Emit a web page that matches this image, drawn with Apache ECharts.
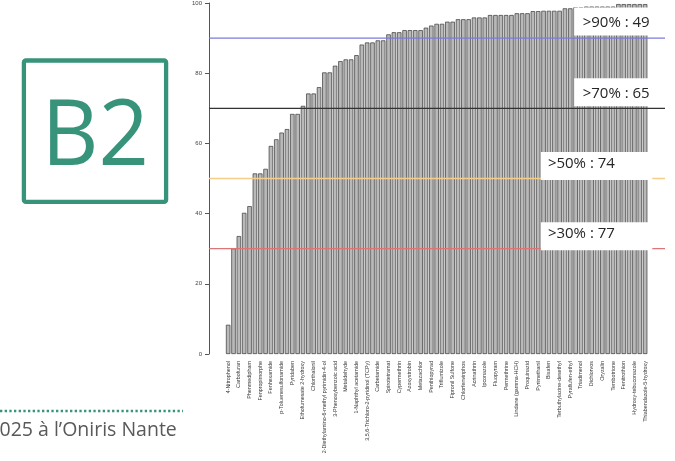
<!DOCTYPE html>
<html>
<head>
<meta charset="utf-8">
<script src="https://cdn.jsdelivr.net/npm/echarts@6/dist/echarts.min.js"></script>
<style>
  html, body { margin: 0; padding: 0; background: #ffffff; }
  #chart { width: 675px; height: 461px; }
</style>
</head>
<body>
<div id="chart"></div>
<script>
// Compound names printed under the axis (one name for every second bar).
const shownNames = [
  '4-Nitrophenol', 'Carbofuran', 'Phenmedipham', 'Fenpropimorphe', 'Fenhexamide',
  'p-Toluenesulfonamide', 'Pyridaben', 'Ethofumesate 2-hydroxy', 'Chlorthalonil',
  '2-Diethylamino-6-methyl pyrimidin-4-ol', '3-Phenoxybenzoic acid', 'Metaldehyde',
  '1-Naphthyl acetamide', '3,5,6-Trichloro-2-pyridinol (TCPy)', 'Carbetamide',
  'Spirotetramat', 'Cypermethrin', 'Azoxystrobin', 'Metazachlor', 'Penthiopyrad',
  'Triflumizole', 'Fipronil Sulfone', 'Chlorfenvinphos', 'Acrinathrin', 'Ipconazole',
  'Fluopyram', 'Permethrine', 'Lindane (gamma-HCH)', 'Proquinazid', 'Pyrimethanil',
  'Bixafen', 'Terbuthylazine-desethyl', 'Pyraflufen-ethyl', 'Triadimenol', 'Dichlorvos',
  'Oryzalin', 'Tembotrione', 'Fenitrothion', 'Hydroxy-tebuconazole', 'Thiabendazole-5-hydroxy'
];

// Percentage per compound, sorted ascending (79 compounds).
const percentages = [
  8.3, 30.0, 33.5, 40.1, 42.0, 51.3, 51.3, 52.6, 59.1, 61.0,
  62.9, 63.9, 68.2, 68.2, 70.5, 74.0, 74.0, 75.8, 80.0, 80.0,
  81.9, 83.2, 83.7, 83.7, 84.9, 87.9, 88.5, 88.5, 89.1, 89.1,
  90.8, 91.4, 91.4, 92.0, 92.0, 92.0, 92.0, 92.7, 93.3, 93.8,
  93.8, 94.4, 94.4, 95.1, 95.1, 95.1, 95.6, 95.6, 95.6, 96.3,
  96.3, 96.3, 96.3, 96.3, 96.8, 96.8, 96.8, 97.4, 97.4, 97.5,
  97.5, 97.5, 97.5, 98.2, 98.2, 98.5, 98.5, 98.7, 98.7, 98.7,
  98.7, 98.7, 98.7, 99.4, 99.4, 99.4, 99.4, 99.4, 99.4
];

// Reference thresholds and their line colours.
const thresholds = [90, 70, 50, 30];
const thresholdColors = ['#7a7ade', '#333333', '#f4cd88', '#dc7676'];

// Axis ticks.
const yMin = 0, yMax = 100, yStep = 20;

// Category table: odd positions carry no printed name.
const compounds = percentages.map((_, i) => (i % 2 === 0 ? shownNames[i / 2] : ''));

const green = '#37937a';
const chart = echarts.init(document.getElementById('chart'), null, { renderer: 'canvas' });

chart.setOption({
  animation: false,
  backgroundColor: '#ffffff',
  grid: [
    { left: 225.5, right: 27.2, top: 2, bottom: 107 },
    { left: 209, right: 10, top: 2, bottom: 107 }
  ],
  xAxis: [
    {
      type: 'category', gridIndex: 0, data: compounds,
      axisLine: { show: false }, axisTick: { show: false },
      axisLabel: {
        interval: 0, rotate: 90, margin: 7,
        fontSize: 5.4, color: '#3a3a3a', fontFamily: 'Liberation Sans'
      }
    },
    { type: 'value', gridIndex: 1, min: 0, max: 1, show: false }
  ],
  yAxis: [
    { type: 'value', gridIndex: 0, min: yMin, max: yMax, show: false },
    {
      type: 'value', gridIndex: 1, min: yMin, max: yMax, interval: yStep,
      axisLine: { show: true, lineStyle: { color: '#555555', width: 1 } },
      axisTick: { show: true, length: 4, lineStyle: { color: '#555555' } },
      axisLabel: { fontSize: 6, color: '#444444', margin: 7, fontFamily: 'Liberation Sans' },
      splitLine: { show: false }
    }
  ],
  series: [
    {
      type: 'bar', xAxisIndex: 0, yAxisIndex: 0, data: percentages,
      barCategoryGap: '17%', silent: true,
      itemStyle: { color: '#b9b9b9', borderColor: '#383838', borderWidth: 0.7 }
    }
  ].concat(thresholds.map((t, k) => ({
    type: 'line', xAxisIndex: 1, yAxisIndex: 1, silent: true, z: 5,
    data: [[0, t], [1, t]], symbol: 'none',
    lineStyle: { color: thresholdColors[k], width: 1.3 }
  })))
});

// Count labels placed just above each threshold line, on white panels.
const panelStart = [65, 65, 59, 59];
const panelShift = [-2.5, -2, 1.5, 1.5];
const bandWidth = chart.convertToPixel({ xAxisIndex: 0 }, 1) - chart.convertToPixel({ xAxisIndex: 0 }, 0);
const lastRight = chart.convertToPixel({ xAxisIndex: 0 }, percentages.length - 1) + bandWidth / 2;

const panels = thresholds.map((t, k) => {
  const lineY = chart.convertToPixel({ yAxisIndex: 1 }, t);
  const left = chart.convertToPixel({ xAxisIndex: 0 }, panelStart[k]) - bandWidth / 2 + (k < 2 ? 1.2 : 0);
  const bottom = lineY + panelShift[k];
  const count = percentages.filter(v => v > t).length;
  return {
    type: 'group', z: 100,
    children: [
      { type: 'rect', z: 100, shape: { x: left, y: bottom - 28, width: lastRight + 4.5 - left, height: 28 },
        style: { fill: '#ffffff' } },
      { type: 'text', z: 101, x: left + (k < 2 ? 8.5 : 7), y: lineY - 15,
        style: { text: '>' + t + '% : ' + count, fill: '#262626',
                 font: '15px "Open Sans"', textAlign: 'left', textVerticalAlign: 'middle' } }
    ]
  };
});

chart.setOption({
  graphic: panels.concat([
    { type: 'rect', z: 100, shape: { x: 23.9, y: 60.5, width: 142.2, height: 141.4, r: 2 },
      style: { fill: 'none', stroke: green, lineWidth: 4.3 } },
    { type: 'text', z: 100, x: 41.5, y: 139, scaleX: 0.96,
      style: { text: 'B2', fill: green, font: '92px "Open Sans"',
               textAlign: 'left', textVerticalAlign: 'middle' } },
    { type: 'line', z: 100, shape: { x1: 0, y1: 411, x2: 183, y2: 411 },
      style: { stroke: green, lineWidth: 2.4, lineDash: [2.3, 2.37] } },
    { type: 'text', z: 100, x: -0.5, y: 430,
      style: { text: '025 à l’Oniris Nante', fill: '#595959', font: '19.5px "Open Sans"',
               textAlign: 'left', textVerticalAlign: 'middle' } }
  ])
});
</script>
</body>
</html>
